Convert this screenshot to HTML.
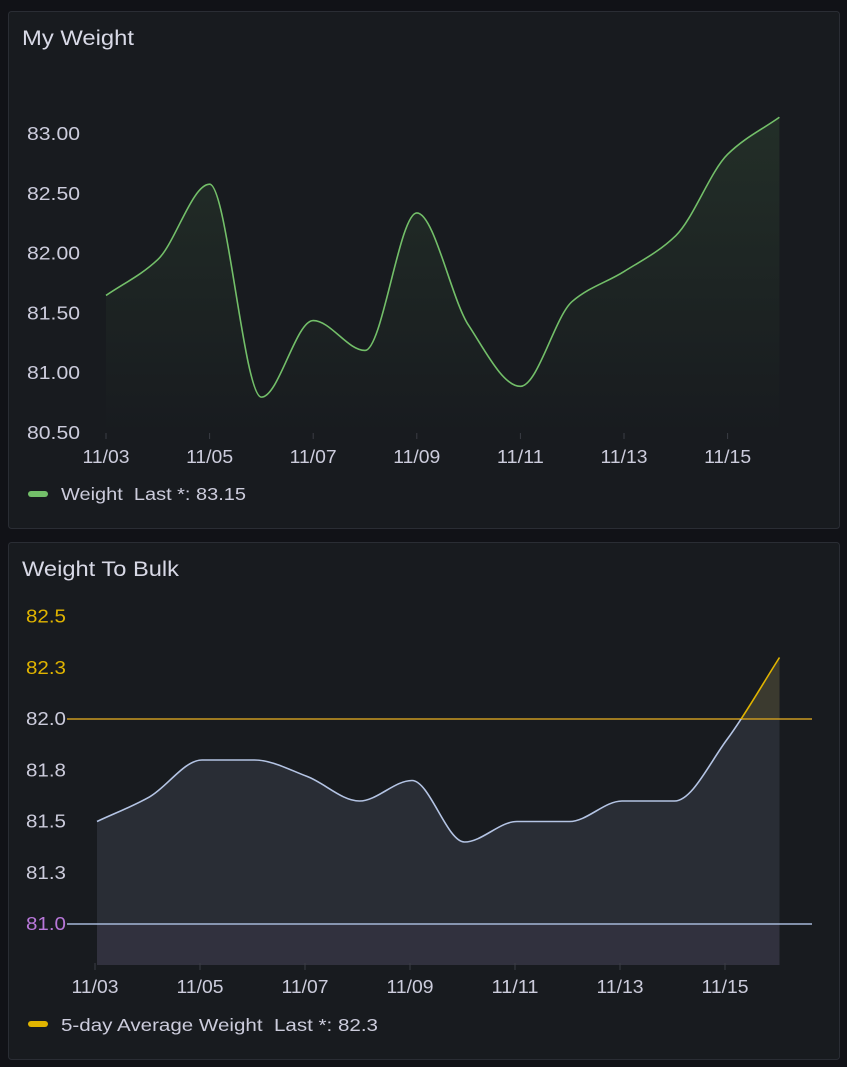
<!DOCTYPE html>
<html><head><meta charset="utf-8">
<style>
html,body{margin:0;padding:0;background:#111217;width:847px;height:1067px;overflow:hidden;font-family:"Liberation Sans",sans-serif;}
svg{position:absolute;left:0;top:0}
text{font-family:"Liberation Sans",sans-serif;white-space:pre}
</style></head>
<body>
<svg id="chart" width="847" height="1067">
<defs>
<linearGradient id="gFill" x1="0" y1="0" x2="0" y2="1">
<stop offset="0" stop-color="#73bf69" stop-opacity="0.12"/>
<stop offset="1" stop-color="#73bf69" stop-opacity="0.0"/>
</linearGradient>
<clipPath id="above"><rect x="0" y="540" width="847" height="179"/></clipPath>
<clipPath id="below"><rect x="0" y="719" width="847" height="205"/></clipPath>
<clipPath id="below81"><rect x="0" y="924" width="847" height="60"/></clipPath>
</defs>
<rect x="8.5" y="11.5" width="831" height="517" rx="3" fill="#181b1f" stroke="#2a2d34"/>
<text x="22" y="45" fill="#d8d9e6" font-size="21" textLength="112" lengthAdjust="spacingAndGlyphs">My Weight</text>
<rect x="8.5" y="542.5" width="831" height="517" rx="3" fill="#181b1f" stroke="#2a2d34"/>
<text x="22" y="576" fill="#d8d9e6" font-size="21" textLength="157" lengthAdjust="spacingAndGlyphs">Weight To Bulk</text>
<g id="top"></g>
<g id="bot"></g>
</svg>
<script>
const days = ["11/03","11/04","11/05","11/06","11/07","11/08","11/09","11/10","11/11","11/12","11/13","11/14","11/15","11/16"];
const weight = [81.65,81.95,82.58,80.8,81.44,81.19,82.34,81.4,80.89,81.6,81.85,82.15,82.83,83.14];
const avgWeight = [81.5,81.62,81.8,81.8,81.72,81.6,81.7,81.4,81.5,81.5,81.6,81.6,81.9,82.3];
const topTicks = [80.5,81.0,81.5,82.0,82.5,83.0];
const botTicks = [81.0,81.25,81.5,81.75,82.0,82.25,82.5];
const xTickLabels = ["11/03","11/05","11/07","11/09","11/11","11/13","11/15"];
const thresholds = [81.0,82.0];

const NS="http://www.w3.org/2000/svg";
function mk(tag,attrs,parent){const e=document.createElementNS(NS,tag);for(const k in attrs)e.setAttribute(k,attrs[k]);parent.appendChild(e);return e;}
function monotone(pts){
  const n=pts.length,dx=[],s=[],m=[];
  for(let i=0;i<n-1;i++){dx[i]=pts[i+1][0]-pts[i][0];s[i]=(pts[i+1][1]-pts[i][1])/dx[i];}
  m[0]=s[0];m[n-1]=s[n-2];
  for(let i=1;i<n-1;i++){m[i]=(s[i-1]*s[i]<=0)?0:(3*(dx[i-1]+dx[i]))/((2*dx[i]+dx[i-1])/s[i-1]+(dx[i]+2*dx[i-1])/s[i]);}
  let d="M"+pts[0][0]+","+pts[0][1];
  for(let i=0;i<n-1;i++){const h=dx[i]/3;d+=" C"+(pts[i][0]+h)+","+(pts[i][1]+m[i]*h)+" "+(pts[i+1][0]-h)+","+(pts[i+1][1]-m[i+1]*h)+" "+pts[i+1][0]+","+pts[i+1][1];}
  return d;
}

// top chart
const gT=document.getElementById('top');
const xT=i=>106+i*51.8;
const yT=v=>134-(v-83)*119.6;
topTicks.forEach(v=>{const t=mk('text',{x:27,y:yT(v)+6,fill:'#ccccdc','font-size':18,textLength:53,lengthAdjust:'spacingAndGlyphs'},gT);t.textContent=v.toFixed(2);

});
xTickLabels.forEach(l=>{const i=days.indexOf(l);mk('line',{x1:xT(i),x2:xT(i),y1:433,y2:439,stroke:'#3a3d44'},gT);const t=mk('text',{x:xT(i)-23.5,y:463,fill:'#ccccdc','font-size':18,textLength:47,lengthAdjust:'spacingAndGlyphs'},gT);t.textContent=l;

});
const ptsT=weight.map((v,i)=>[xT(i),yT(v)]);
const dT=monotone(ptsT);
const af=mk('path',{d:dT+" L"+xT(days.length-1)+",433 L"+xT(0)+",433 Z",fill:'url(#gFill)'},gT);


const lT=mk('path',{d:dT,fill:'none',stroke:'#73bf69','stroke-width':1.6},gT);


const lg1=mk('rect',{x:28,y:491,width:20,height:6,rx:3,fill:'#73bf69'},gT);


const lt1=mk('text',{x:61,y:500,fill:'#ccccdc','font-size':17.5,textLength:185,lengthAdjust:'spacingAndGlyphs'},gT);lt1.textContent="Weight  Last *: 83.15";



// bottom chart
const gB=document.getElementById('bot');
const xB=i=>97+i*52.5;
const yB=v=>719-(v-82)*205;
const base=965;
botTicks.forEach(v=>{const col=v>=82.25?'#e0b400':(v<=81?'#b877d9':'#ccccdc');const t=mk('text',{x:26,y:yB(v)+6,fill:col,'font-size':18,textLength:40,lengthAdjust:'spacingAndGlyphs'},gB);t.textContent=(Math.round(v*10)/10).toFixed(1);

});
const ptsB=avgWeight.map((v,i)=>[xB(i),yB(v)]);
const dB=monotone(ptsB);
const area=dB+" L"+xB(days.length-1)+","+base+" L"+xB(0)+","+base+" Z";
const a1=mk('path',{d:area,fill:'#a6b8d8','fill-opacity':0.12},gB);


const a2=mk('path',{d:area,fill:'#e0b400','fill-opacity':0.1,'clip-path':'url(#above)'},gB);


const a3=mk('path',{d:area,fill:'#b877d9','fill-opacity':0.06,'clip-path':'url(#below81)'},gB);


const th1=mk('line',{x1:67,x2:812,y1:yB(thresholds[1]),y2:yB(thresholds[1]),stroke:'#c99a20','stroke-width':1.6},gB);


const th0=mk('line',{x1:67,x2:812,y1:yB(thresholds[0]),y2:yB(thresholds[0]),stroke:'#a6b8d8','stroke-width':1.6},gB);


const l1=mk('path',{d:dB,fill:'none',stroke:'#b4c4e4','stroke-width':1.6,'clip-path':'url(#below)'},gB);


const l2=mk('path',{d:dB,fill:'none',stroke:'#e0b400','stroke-width':1.6,'clip-path':'url(#above)'},gB);


xTickLabels.forEach(l=>{const i=days.indexOf(l);mk('line',{x1:xB(i)-2,x2:xB(i)-2,y1:963,y2:970,stroke:'#3a3d44'},gB);const t=mk('text',{x:xB(i)-25.5,y:993,fill:'#ccccdc','font-size':18,textLength:47,lengthAdjust:'spacingAndGlyphs'},gB);t.textContent=l;

});
const lg2=mk('rect',{x:28,y:1021,width:20,height:6,rx:3,fill:'#e0b400'},gB);


const lt2=mk('text',{x:61,y:1031,fill:'#ccccdc','font-size':17.5,textLength:317,lengthAdjust:'spacingAndGlyphs'},gB);lt2.textContent="5-day Average Weight  Last *: 82.3";


</script>
</body></html>
